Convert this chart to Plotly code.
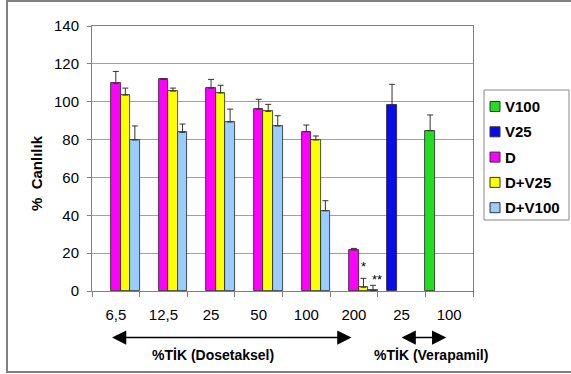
import plotly.graph_objects as go

# ---- data ----
cat_ids = ["D6.5", "D12.5", "D25", "D50", "D100", "D200", "V25", "V100"]
cat_labels = ["6,5", "12,5", "25", "50", "100", "200", "25", "100"]

series_names = ["V100", "V25", "D", "D+V25", "D+V100"]
series_colors = ["#22dd22", "#0a0af0", "#ff00ff", "#ffff00", "#99ccff"]

v100 = [None, None, None, None, None, None, None, 84.7]
v100_err = [None, None, None, None, None, None, None, 8.3]
v25 = [None, None, None, None, None, None, 98.3, None]
v25_err = [None, None, None, None, None, None, 10.9, None]
d = [109.7, 111.8, 107.2, 96.1, 84.2, 21.7, None, None]
d_err = [6.3, 0.3, 4.6, 5.2, 3.5, 0.8, None, None]
dv25 = [103.5, 105.6, 104.6, 94.9, 79.8, 2.0, None, None]
dv25_err = [3.7, 1.6, 4.1, 3.7, 2.1, 4.7, None, None]
dv100 = [79.8, 83.8, 89.3, 87.2, 42.4, 0.3, None, None]
dv100_err = [7.4, 4.4, 6.8, 5.4, 5.3, 2.7, None, None]

series_values = [v100, v25, d, dv25, dv100]
series_errors = [v100_err, v25_err, d_err, dv25_err, dv100_err]

y_ticks = [0, 20, 40, 60, 80, 100, 120, 140]

FONT = "Liberation Sans, Arial, sans-serif"

# figure geometry (pixels)
W, H = 571, 374
ML, MR, MT, MB = 92, 98, 26, 83
PW, PH = W - ML - MR, H - MT - MB


def px_x(px):
    return (px - ML) / PW


def px_y(py):
    return (H - MB - py) / PH


fig = go.Figure()
for name, color, vals, errs in zip(series_names, series_colors, series_values, series_errors):
    fig.add_trace(go.Bar(
        x=cat_ids, y=vals, name=name, showlegend=False,
        marker=dict(color=color, line=dict(color="#222222", width=0.8)),
        error_y=dict(type="data", symmetric=False, array=errs,
                     arrayminus=[0 if e is not None else None for e in errs],
                     color="#333333", thickness=1, width=3),
    ))

# significance marks above D+V25 and D+V100 at 200
fig.add_annotation(x=5.2, y=dv25[5] + dv25_err[5], text="*", showarrow=False,
                   yanchor="bottom", yshift=2, font=dict(family=FONT, size=13, color="#000"))
fig.add_annotation(x=5.48, y=dv100[5] + dv100_err[5], text="**", showarrow=False,
                   yanchor="bottom", yshift=-4, font=dict(family=FONT, size=13, color="#000"))

# arrows under the axis
for x0, x1 in [(-0.08, 4.98), (6.0, 6.97)]:
    fig.add_annotation(x=x0, y=px_y(337.5), xref="x", yref="paper",
                       ax=x1, ay=0, axref="x", ayref="pixel", text="",
                       showarrow=True, arrowhead=2, arrowside="end+start",
                       arrowsize=1.9, arrowwidth=1.5, arrowcolor="#000")
fig.add_annotation(x=2.04, y=px_y(355), xref="x", yref="paper", text="%TİK (Dosetaksel)",
                   showarrow=False, yanchor="middle",
                   font=dict(family=FONT, size=14, color="#000", weight="bold"))
fig.add_annotation(x=6.62, y=px_y(355), xref="x", yref="paper", text="%TİK (Verapamil)",
                   showarrow=False, yanchor="middle",
                   font=dict(family=FONT, size=14, color="#000", weight="bold"))

# y-axis title
fig.add_annotation(x=px_x(36), y=px_y(173), xref="paper", yref="paper", text="%  Canlılık",
                   textangle=-90, showarrow=False, xanchor="center", yanchor="middle",
                   font=dict(family=FONT, size=15, color="#000", weight="bold"))

# outer chart frame
fig.add_shape(type="rect", xref="paper", yref="paper", x0=px_x(7), x1=px_x(575),
              y0=px_y(372), y1=px_y(1), line=dict(color="#7f7f7f", width=2), layer="below")

# legend (box, swatches, labels)
fig.add_shape(type="rect", xref="paper", yref="paper", x0=px_x(484), x1=px_x(569),
              y0=px_y(220), y1=px_y(90), line=dict(color="#888888", width=1),
              fillcolor="white")
for i, (name, color) in enumerate(zip(series_names, series_colors)):
    yc = 106.5 + 25.3 * i
    fig.add_shape(type="rect", xref="paper", yref="paper",
                  x0=px_x(490), x1=px_x(500), y0=px_y(yc + 5), y1=px_y(yc - 5),
                  line=dict(color="#333333", width=1), fillcolor=color)
    fig.add_annotation(x=px_x(503), y=px_y(yc), xref="paper", yref="paper", text=name,
                       showarrow=False, xanchor="left", yanchor="middle",
                       font=dict(family=FONT, size=15, color="#000", weight="bold"))

fig.update_layout(
    width=W, height=H,
    margin=dict(l=ML, r=MR, t=MT, b=MB),
    paper_bgcolor="white", plot_bgcolor="white",
    barmode="group", bargap=0, bargroupgap=0,
    showlegend=False,
    font=dict(family=FONT, size=15, color="#000"),
    xaxis=dict(type="category", categoryorder="array", categoryarray=cat_ids,
               range=[-0.5, len(cat_ids) - 0.5], autorange=False,
               tickvals=cat_ids, ticktext=cat_labels, tickson="boundaries",
               ticks="outside", ticklen=5, tickcolor="#808080", ticklabelstandoff=10,
               showline=True, linecolor="#808080", linewidth=1, mirror=True,
               showgrid=False, tickfont=dict(family=FONT, size=15, color="#000")),
    yaxis=dict(range=[0, 140], autorange=False, tickvals=y_ticks, ticks="outside", ticklen=4,
               tickcolor="#808080", ticklabelstandoff=5,
               showline=True, linecolor="#808080", linewidth=1,
               mirror=True, showgrid=True, gridcolor="#a0a0a0", gridwidth=1,
               zeroline=False, tickfont=dict(family=FONT, size=15, color="#000")),
)

fig.write_html("out.html")
